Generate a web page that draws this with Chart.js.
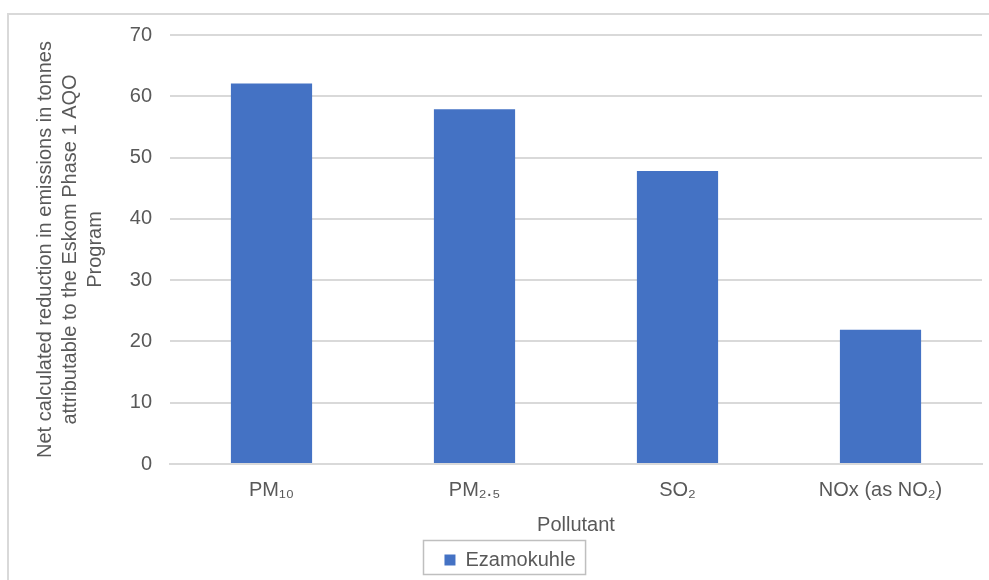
<!DOCTYPE html>
<html>
<head>
<meta charset="utf-8">
<script src="https://cdn.jsdelivr.net/npm/chart.js@4.4.1/dist/chart.umd.min.js"></script>
<style>
  html, body { margin: 0; padding: 0; background: #ffffff; }
  #wrap { position: relative; width: 989px; height: 580px; overflow: hidden; }
  canvas { display: block; }
</style>
</head>
<body>
<div id="wrap"><canvas id="chart" width="989" height="580"></canvas></div>
<script>
// Pollutant categories and the reduction (tonnes) for each
const pollutants = ['PM₁₀', 'PM₂.₅', 'SO₂', 'NOx (as NO₂)'];
const seriesName = 'Ezamokuhle';
const reductions = [62.1, 57.9, 47.8, 21.9];
const yTitleLines = [
  'Net calculated reduction in emissions in tonnes',
  'attributable to the Eskom Phase 1 AQO',
  'Program'
];
const xTitle = 'Pollutant';

const textColor = '#595959';
const gridColor = '#d9d9d9';
const barColor = '#4472C4';
const fontFamily = '"Liberation Sans", Arial, sans-serif';

// Frame around the whole figure plus a box around the legend
const framePlugin = {
  id: 'frame',
  beforeDraw(chart) {
    const ctx = chart.ctx;
    ctx.save();
    ctx.strokeStyle = '#d9d9d9';
    ctx.lineWidth = 2;
    ctx.strokeRect(8, 14, 1200, 800);
    ctx.restore();
  },
  afterDraw(chart) {
    const lg = chart.legend;
    if (!lg || !lg.legendHitBoxes || !lg.legendHitBoxes.length) return;
    const hb = lg.legendHitBoxes[0];
    const ctx = chart.ctx;
    ctx.save();
    ctx.strokeStyle = '#bfbfbf';
    ctx.lineWidth = 1.5;
    ctx.strokeRect(Math.round(hb.left) - 20.5, 540.5, hb.width + 31, 34);
    ctx.restore();
  }
};

new Chart(document.getElementById('chart'), {
  type: 'bar',
  data: {
    labels: pollutants,
    datasets: [{
      label: seriesName,
      data: reductions,
      backgroundColor: barColor,
      borderWidth: 0,
      barPercentage: 0.8,
      categoryPercentage: 0.5
    }]
  },
  options: {
    responsive: false,
    animation: false,
    devicePixelRatio: 1,
    layout: { padding: { left: 38, top: 35, right: 7, bottom: 0 } },
    scales: {
      y: {
        min: 0,
        max: 70,
        ticks: {
          stepSize: 10,
          color: textColor,
          font: { family: fontFamily, size: 20 },
          padding: 18
        },
        grid: { color: gridColor, lineWidth: 2, drawTicks: false },
        border: { display: false },
        title: {
          display: true,
          text: yTitleLines,
          color: textColor,
          font: { family: fontFamily, size: 20, lineHeight: 1.25 },
          padding: { top: -5.5, bottom: 0 }
        },
        afterFit(scale) { scale.width = 132; }
      },
      x: {
        ticks: {
          color: textColor,
          font: { family: fontFamily, size: 20 },
          padding: 14
        },
        grid: { display: false, drawTicks: false },
        border: { display: true, color: gridColor, width: 2 },
        title: {
          display: true,
          text: xTitle,
          color: textColor,
          font: { family: fontFamily, size: 20 },
          padding: { top: 0, bottom: 6 }
        },
        afterFit(scale) { scale.height = 79; }
      }
    },
    plugins: {
      legend: {
        position: 'bottom',
        labels: {
          color: textColor,
          font: { family: fontFamily, size: 20 },
          boxWidth: 11,
          boxHeight: 11,
          padding: 7
        }
      },
      tooltip: { enabled: false }
    }
  },
  plugins: [framePlugin]
});
</script>
</body>
</html>
